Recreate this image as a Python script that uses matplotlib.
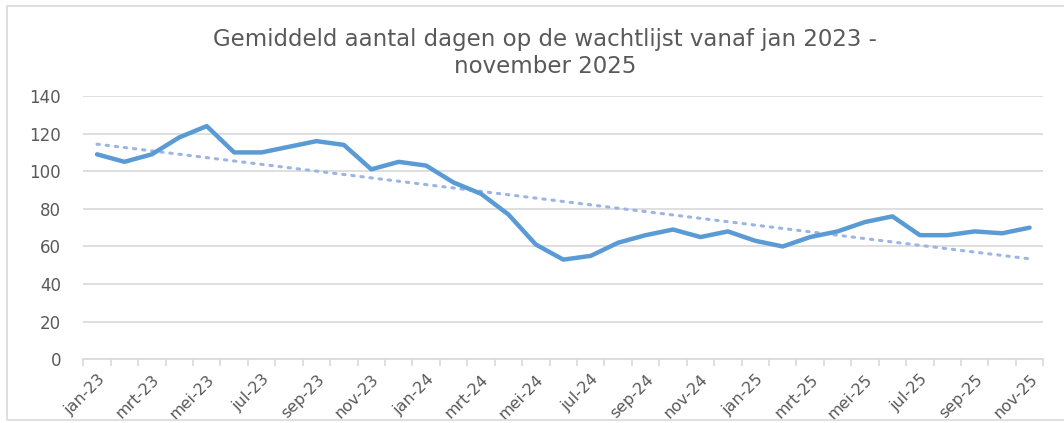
import numpy as np
import matplotlib
matplotlib.use("Agg")
import matplotlib.pyplot as plt
from matplotlib.patches import Rectangle
from matplotlib.transforms import ScaledTranslation

months = ["jan", "feb", "mrt", "apr", "mei", "jun", "jul", "aug", "sep", "okt", "nov", "dec"]
years = ["23", "24", "25"]
categories = [f"{m}-{y}" for y in years for m in months][:35]

values = [109, 105, 109, 118, 124, 110, 110, 113, 116, 114, 101, 105,
          103, 94, 88, 77, 61, 53, 55, 62, 66, 69, 65, 68,
          63, 60, 65, 68, 73, 76, 66, 66, 68, 67, 70]

y_ticks = [0, 20, 40, 60, 80, 100, 120, 140]
title = "Gemiddeld aantal dagen op de wachtlijst vanaf jan 2023 -\nnovember 2025"

plt.rcParams['font.family'] = ['DejaVu Sans']
gray = "#595959"

fig = plt.figure(figsize=(10.64, 4.23), dpi=100)
ax = fig.add_axes([83.3/1064, 1 - 359.3/423, (1043.3-83.3)/1064, (359.3-96)/423])

x = np.arange(len(values))
coef = np.polyfit(x, values, 1)
trend = np.polyval(coef, x)

ax.plot(x, trend, linestyle=(0, (0.8, 2.2)), color="#9DB5E3", lw=2.2,
        dash_capstyle="round", zorder=2)
ax.plot(x, values, color="#5B9BD5", lw=3.2, solid_joinstyle="round",
        solid_capstyle="round", zorder=3)

ax.set_xlim(-0.5, len(values) - 0.5)
ax.set_ylim(0, 140)
ax.set_yticks(y_ticks)
ax.set_yticklabels([str(v) for v in y_ticks])
ax.yaxis.grid(True, color="#D9D9D9", lw=1.2)
ax.set_axisbelow(True)

ax.set_xticks(x[::2])
ax.set_xticklabels(categories[::2], rotation=45, ha="right",
                   rotation_mode="anchor")
shift = ScaledTranslation(4/100, 0, fig.dpi_scale_trans)
for lbl in ax.get_xticklabels():
    lbl.set_transform(lbl.get_transform() + shift)
ax.set_xticks(np.arange(-0.5, len(values) + 0.5, 1), minor=True)
ax.tick_params(axis="x", which="major", length=0, pad=9, labelsize=11.5,
               labelcolor=gray)
ax.tick_params(axis="x", which="minor", length=5, width=1.2, color="#D9D9D9")
ax.tick_params(axis="y", length=0, pad=16, labelsize=12, labelcolor=gray)

for s in ["top", "right", "left"]:
    ax.spines[s].set_visible(False)
ax.spines["bottom"].set_color("#D9D9D9")
ax.spines["bottom"].set_linewidth(1.2)

fig.text(545/1064, 1 - 53/423, title, ha="center", va="center",
         fontsize=16.5, color=gray, linespacing=1.2)

fig.patches.append(Rectangle((7/1064, 3/423), 1.1, 1 - 9/423,
                             transform=fig.transFigure, fill=False,
                             edgecolor="#D9D9D9", lw=1.2))

fig.savefig("out.png", dpi=100)
